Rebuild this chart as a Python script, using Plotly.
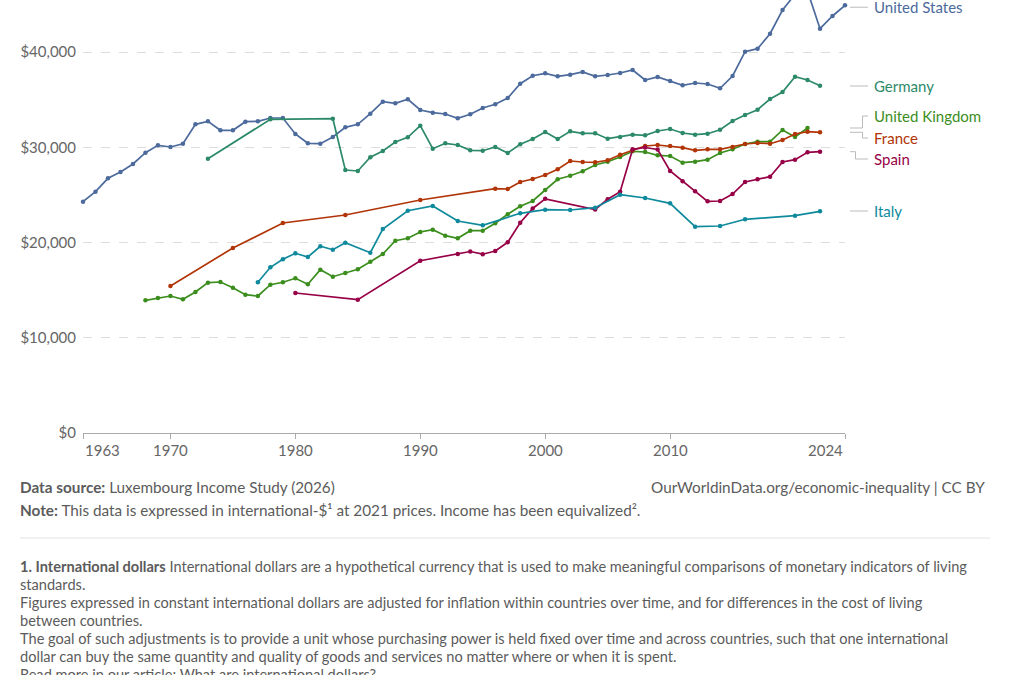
import plotly.graph_objects as go

# ---------------- data ----------------
us_years = list(range(1963, 2025))
us_values = [24283, 25333, 26740, 27402, 28241, 29428, 30205, 30026, 30373, 32409,
             32724, 31780, 31780, 32682, 32724, 33071, 33071, 31391, 30415, 30373,
             31076, 32094, 32409, 33522, 34782, 34614, 35034, 33911, 33627, 33491,
             33039, 33459, 34121, 34509, 35171, 36672, 37512, 37764, 37449, 37617,
             37900, 37449, 37585, 37795, 38110, 37060, 37375, 36955, 36504, 36745,
             36640, 36189, 37480, 40031, 40346, 41921, 44409, 46050, 46400, 42446,
             43780, 44903]

de_years = [1973, 1978, 1983, 1984, 1985, 1986, 1987, 1988, 1989, 1990] + list(range(1991, 2023))
de_values = [28798, 32934, 32997, 27612, 27507, 28945, 29606, 30551, 31045, 32262,
             29848, 30415, 30236, 29680, 29638, 30026, 29396, 30310, 30866, 31601,
             30866, 31675, 31465, 31465, 30898, 31076, 31318, 31255, 31706, 31916,
             31496, 31318, 31423, 31843, 32756, 33386, 33942, 35066, 35801, 37407,
             37060, 36462]

uk_years = list(range(1968, 2022))
uk_values = [13932, 14173, 14383, 14037, 14803, 15780, 15853, 15255, 14520, 14383,
             15570, 15822, 16241, 15612, 17144, 16409, 16798, 17186, 17984, 18793,
             20189, 20441, 21102, 21344, 20714, 20441, 21239, 21239, 22016, 22961,
             23801, 24357, 25512, 26635, 27013, 27475, 28136, 28483, 28976, 29575,
             29501, 29155, 29081, 28378, 28483, 28693, 29396, 29785, 30341, 30583,
             30583, 31811, 31076, 32021]

fr_years = [1970, 1975, 1979, 1984, 1990, 1996] + list(range(1997, 2023))
fr_values = [15433, 19423, 22047, 22887, 24462, 25648,
             25617, 26352, 26667, 27087, 27685, 28556, 28451, 28420, 28630, 29218,
             29680, 30131, 30236, 30131, 29953, 29680, 29785, 29785, 30026, 30341,
             30446, 30373, 30761, 31391, 31633, 31570]

es_years = [1980, 1985, 1990, 1993, 1994, 1995, 1996, 1997, 1998, 1999, 2000,
            2004] + list(range(2005, 2023))
es_values = [14698, 13995, 18089, 18793, 19055, 18772, 19108, 20021, 22079, 23570, 24588,
             23465, 24546, 25333, 29785, 29974, 29764, 27507, 26425, 25375, 24325,
             24357, 25092, 26352, 26635, 26908, 28451, 28693, 29470, 29533]

it_years = [1977, 1978, 1979, 1980, 1981, 1982, 1983, 1984, 1986, 1987, 1989, 1991,
            1993, 1995, 1998, 2000, 2002, 2004, 2006, 2008, 2010, 2012, 2014, 2016,
            2020, 2022]
it_values = [15822, 17396, 18236, 18866, 18478, 19601, 19244, 19979, 18929, 21417,
             23339, 23832, 22257, 21806, 23066, 23444, 23412, 23654, 25018, 24672,
             24115, 21659, 21732, 22436, 22814, 23276]

countries = ["United States", "Germany", "United Kingdom", "France", "Spain", "Italy"]
colors = ["#4C6A9C", "#2C8A68", "#3B8E1D", "#B13507", "#970046", "#0E8A9C"]
series_years = [us_years, de_years, uk_years, fr_years, es_years, it_years]
series_values = [us_values, de_values, uk_values, fr_values, es_values, it_values]

y_tickvals = [0, 10000, 20000, 30000, 40000]
y_ticktext = ["$0", "$10,000", "$20,000", "$30,000", "$40,000"]
x_tickvals = [1963, 1970, 1980, 1990, 2000, 2010, 2024]
x_ticktext = ["1963", "1970", "1980", "1990", "2000", "2010", "2024"]

# label positions (data units) for the end labels
label_y = [44700, 36430, 33281, 30971, 28766, 23307]

# ---------------- layout geometry ----------------
W, H = 1009, 675
L, R, T, B = 83, 164, 0, 242
PW, PH = W - L - R, H - T - B
Y_MAX = 45459

def px(x):
    return (x - L) / PW

def py(y):
    return (H - B - y) / PH

FONT = "Lato, 'Open Sans', sans-serif"

fig = go.Figure()
for name, col, xs, ys in zip(countries, colors, series_years, series_values):
    fig.add_trace(go.Scatter(
        x=xs, y=ys, name=name, mode="lines+markers",
        line=dict(color=col, width=1.7),
        marker=dict(color=col, size=4.5),
        cliponaxis=False,
        showlegend=False,
        hovertemplate="%{x}: $%{y:,.0f}<extra>" + name + "</extra>",
    ))

annotations = []
shapes = []

# x tick labels (first left-aligned, last right-aligned)
for i, (v, t) in enumerate(zip(x_tickvals, x_ticktext)):
    anchor = "left" if i == 0 else ("right" if i == len(x_tickvals) - 1 else "center")
    annotations.append(dict(x=v, y=py(450), xref="x", yref="paper", text=t,
                            showarrow=False, xanchor=anchor, yanchor="middle",
                            font=dict(family=FONT, size=15, color="#666666")))

# end labels with connectors
end_vals = [vals[-1] for vals in series_values]
lx0, lx1, ltext = 850, 868, 872
elbow = {2: 862.5, 3: 862.5, 4: 855.5}
for i, (name, col) in enumerate(zip(countries, colors)):
    ye = end_vals[i]
    yl = label_y[i]
    if i in elbow:
        ex = elbow[i]
        for (xa, ya, xb, yb) in [(lx0, ye, ex, ye), (ex, ye, ex, yl), (ex, yl, lx1, yl)]:
            shapes.append(dict(type="line", xref="paper", yref="y",
                               x0=px(xa), x1=px(xb), y0=ya, y1=yb,
                               line=dict(color="#bbbbbb", width=1)))
    else:
        shapes.append(dict(type="line", xref="paper", yref="y",
                           x0=px(lx0), x1=px(lx1), y0=yl, y1=yl,
                           line=dict(color="#bbbbbb", width=1)))
    annotations.append(dict(x=px(ltext), y=yl, xref="paper", yref="y", text=name,
                            showarrow=False, xanchor="left", yanchor="middle",
                            font=dict(family=FONT, size=15, color=col)))

# footer
foot_col = "#5b5b5b"
annotations.append(dict(x=px(18), y=py(487), xref="paper", yref="paper",
                        text="<b>Data source:</b> Luxembourg Income Study (2026)",
                        showarrow=False, xanchor="left", yanchor="middle",
                        font=dict(family=FONT, size=15.3, color=foot_col)))
annotations.append(dict(x=px(987), y=py(487), xref="paper", yref="paper",
                        text="OurWorldinData.org/economic-inequality | CC BY",
                        showarrow=False, xanchor="right", yanchor="middle",
                        font=dict(family=FONT, size=15.3, color=foot_col)))
annotations.append(dict(x=px(18), y=py(510), xref="paper", yref="paper",
                        text="<b>Note:</b> This data is expressed in international-$¹ at 2021 prices. Income has been equivalized².",
                        showarrow=False, xanchor="left", yanchor="middle",
                        font=dict(family=FONT, size=15.3, color=foot_col)))
shapes.append(dict(type="line", xref="paper", yref="paper", x0=px(20), x1=px(990),
                   y0=py(538), y1=py(538), line=dict(color="#e3e3e3", width=1)))

foot_lines = [
    "<b>1. International dollars</b> International dollars are a hypothetical currency that is used to make meaningful comparisons of monetary indicators of living",
    "standards.",
    "Figures expressed in constant international dollars are adjusted for inflation within countries over time, and for differences in the cost of living",
    "between countries.",
    "The goal of such adjustments is to provide a unit whose purchasing power is held fixed over time and across countries, such that one international",
    "dollar can buy the same quantity and quality of goods and services no matter where or when it is spent.",
    "Read more in our article: What are international dollars?",
]
for k, line in enumerate(foot_lines):
    annotations.append(dict(x=px(18), y=py(566 + 18 * k), xref="paper", yref="paper",
                            text=line, showarrow=False, xanchor="left", yanchor="middle",
                            font=dict(family=FONT, size=14.6, color=foot_col)))

fig.update_layout(
    width=W, height=H,
    margin=dict(l=L, r=R, t=T, b=B, pad=0),
    paper_bgcolor="white", plot_bgcolor="white",
    font=dict(family=FONT, color="#666666"),
    xaxis=dict(range=[1963, 2024], tickvals=x_tickvals, ticktext=[""] * len(x_tickvals),
               showgrid=False, zeroline=False, showline=True, linecolor="#aaaaaa",
               linewidth=1, ticks="outside", ticklen=5, tickcolor="#aaaaaa"),
    yaxis=dict(range=[0, Y_MAX], tickvals=y_tickvals, ticktext=y_ticktext,
               showgrid=True, gridcolor="#dddddd", griddash="dash", gridwidth=1,
               zeroline=False, showline=False, ticks="", ticklabelstandoff=6,
               tickfont=dict(family=FONT, size=15, color="#666666")),
    annotations=annotations,
    shapes=shapes,
)

fig.write_html("out.html", config={"displayModeBar": False},
               post_script="document.body.style.margin='0';document.body.style.padding='0';document.body.style.overflow='hidden';")
